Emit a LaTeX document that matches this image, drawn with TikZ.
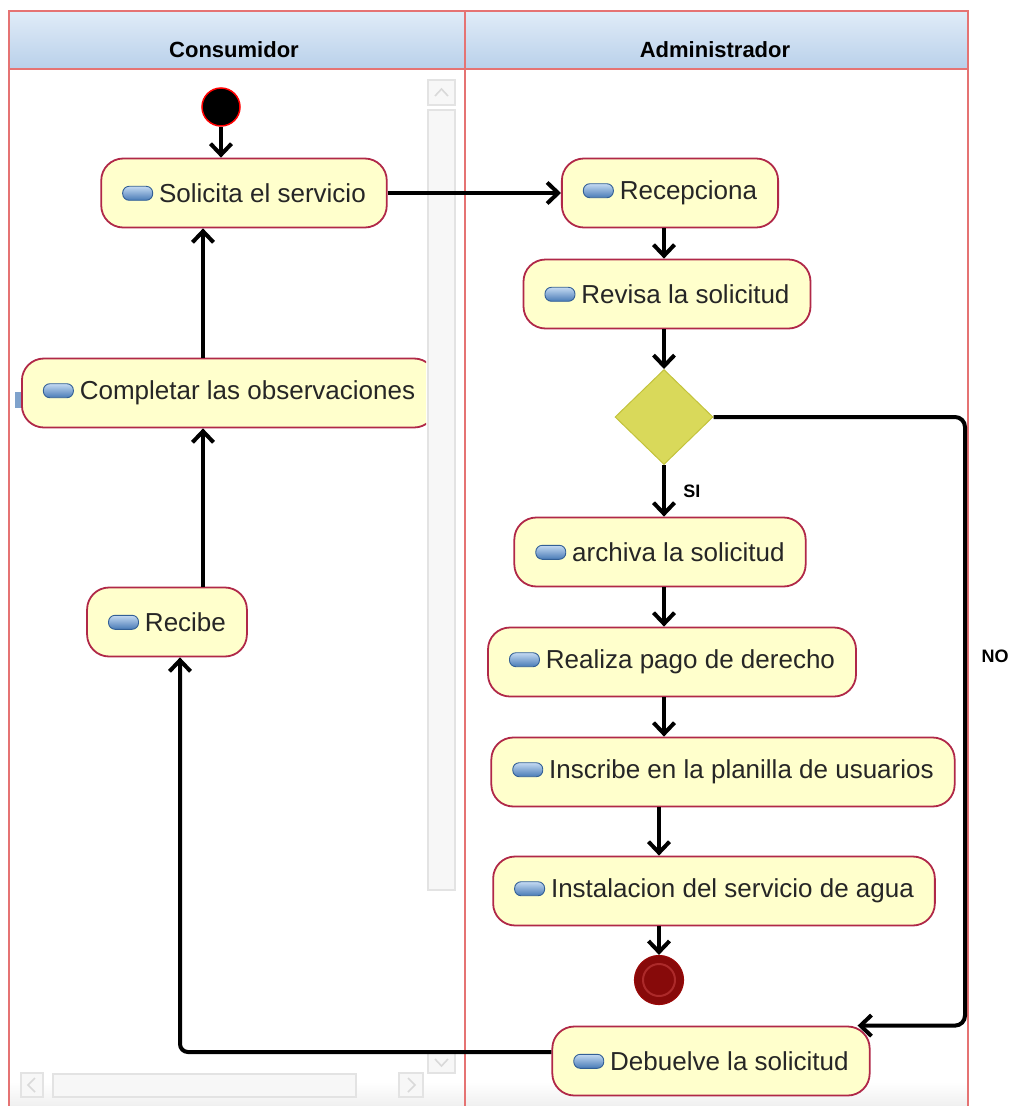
\documentclass[tikz,border=0pt]{standalone}
\usepackage{fontspec}
\setmainfont{Liberation Sans}
\usetikzlibrary{arrows.meta,shapes.geometric}
\definecolor{laneline}{RGB}{229,115,115}
\definecolor{hdtop}{RGB}{224,236,248}
\definecolor{hdbot}{RGB}{185,208,234}
\definecolor{actfill}{RGB}{255,255,204}
\definecolor{actline}{RGB}{176,40,72}
\definecolor{icotop}{RGB}{196,218,242}
\definecolor{icobot}{RGB}{72,122,182}
\definecolor{icoline}{RGB}{50,95,150}
\definecolor{decfill}{RGB}{217,217,90}
\definecolor{decline}{RGB}{195,195,60}
\definecolor{endfill}{RGB}{135,10,10}
\definecolor{endring}{RGB}{172,42,42}
\newcommand{\acticon}{\tikz[baseline=-2pt]\shade[top color=icotop, bottom color=icobot, draw=icoline, line width=0.9pt, rounded corners=6.5pt] (0pt,0pt) rectangle (30pt,14pt);}

\begin{document}
\begin{tikzpicture}[x=1pt, y=-1pt, >={Straight Barb[length=11pt, width=21pt]},
  act/.style={rectangle, rounded corners=22pt, draw=actline, fill=actfill, line width=1.8pt, minimum height=69pt, inner xsep=21pt, text=black!85, font=\fontsize{26}{30}\selectfont},
  lane/.style={draw=laneline, line width=1.6pt},
  flow/.style={->, line width=4pt},
  sbar/.style={draw=gray!22, fill=gray!6, line width=1.2pt},
  chev/.style={draw=gray!30, line width=1.6pt},
  hdr/.style={anchor=base, font=\bfseries\fontsize{22}{24}\selectfont},
  guard/.style={font=\bfseries\fontsize{18}{22}\selectfont}]
  \useasboundingbox (0,0) rectangle (1015,1106);
  \shade [top color=white, bottom color=gray!12] (9,1082) rectangle (968,1106);
  \shade [top color=hdtop, bottom color=hdbot] (9,11) rectangle (968,69);
  \draw [lane] (9,1106) -- (9,11) -- (968,11) -- (968,1106);
  \draw [lane] (9,69) -- (968,69);
  \draw [lane] (465,11) -- (465,1106);
  \node (13) [hdr] at (234,57) {Consumidor};
  \node (14) [hdr] at (715,57) {Administrador};
  \draw [sbar] (428,80) rectangle (455,105);
  \draw [chev] (435,96) -- (441.5,89) -- (448,96);
  \draw [sbar] (428,110) rectangle (455,890);
  \draw [sbar] (428,1052) rectangle (455,1073);
  \draw [chev] (435,1059) -- (441.5,1066) -- (448,1059);
  \draw [sbar] (21,1073) rectangle (43,1097);
  \draw [chev] (35,1078) -- (28,1085) -- (35,1092);
  \draw [sbar] (53,1074) rectangle (356,1097);
  \draw [sbar] (399,1073) rectangle (423,1097);
  \draw [chev] (408,1078) -- (415,1085) -- (408,1092);
  \fill [icobot!70] (15,392) rectangle (21,408);
  \node  (0) [circle, fill=black, draw=red, line width=1.5pt, minimum size=38pt, inner sep=0pt] at (221,107) {};
  \node  (1) [act] at (244,193) {\acticon\hspace{6pt}Solicita el servicio};
  \node  (2) [act] at (670,193) {\acticon\hspace{6pt}Recepciona};
  \node  (3) [act] at (667,294) {\acticon\hspace{6pt}Revisa la solicitud};
  \node  (4) [diamond, draw=decline, fill=decfill, line width=1pt, minimum width=98pt, minimum height=95pt, inner sep=0pt] at (664,417) {};
  \node  (5) [act] at (660,552) {\acticon\hspace{6pt}archiva la solicitud};
  \node  (6) [act] at (672,662) {\acticon\hspace{6pt}Realiza pago de derecho};
  \node  (7) [act] at (723,772) {\acticon\hspace{6pt}Inscribe en la planilla de usuarios};
  \node  (8) [act] at (714,891) {\acticon\hspace{6pt}Instalacion del servicio de agua};
  \node  (9) [circle, fill=endfill, draw=endfill!85!red, line width=1.2pt, minimum size=49pt, inner sep=0pt] at (659,980) {};
  \draw [endring, line width=2pt] (9.center) circle [radius=16pt];
  \node (10) [act] at (711,1061) {\acticon\hspace{6pt}Debuelve la solicitud};
  \node (11) [act] at (167,622) {\acticon\hspace{6pt}Recibe};
  \begin{scope}
    \clip (9,69) rectangle (426,1100);
    \node (12) [act] at (229,393) {\acticon\hspace{6pt}Completar las observaciones};
  \end{scope}
  \coordinate (col1) at (203,0);
  \coordinate (col2) at (965,0);
  \node (16) [guard] at (995,656) {NO};
  \draw [flow] (0) -- (0 |- 1.north);
  \draw [flow] (1) -- (2);
  \draw [flow] (4 |- 2.south) -- (4 |- 3.north);
  \draw [flow] (4 |- 3.south) -- (4.north);
  \draw [flow] (4.south) -- (4 |- 5.north) node [guard, pos=.5, right=14pt] (15) {SI};
  \draw [flow] (4 |- 5.south) -- (4 |- 6.north);
  \draw [flow] (4 |- 6.south) -- (4 |- 7.north);
  \draw [flow] (9 |- 7.south) -- (9 |- 8.north);
  \draw [flow] (9 |- 8.south) -- (9.north);
  \draw [flow, rounded corners=10pt] (4.east) -- (4.east -| col2) |- ([xshift=-13pt]10.north east);
  \draw [flow, rounded corners=8pt] ([yshift=9pt]10.west) -| ([xshift=13pt]11.south);
  \draw [flow] (col1 |- 11.north) -- (col1 |- 12.south);
  \draw [flow] (col1 |- 12.north) -- (col1 |- 1.south);
\end{tikzpicture}
\end{document}
